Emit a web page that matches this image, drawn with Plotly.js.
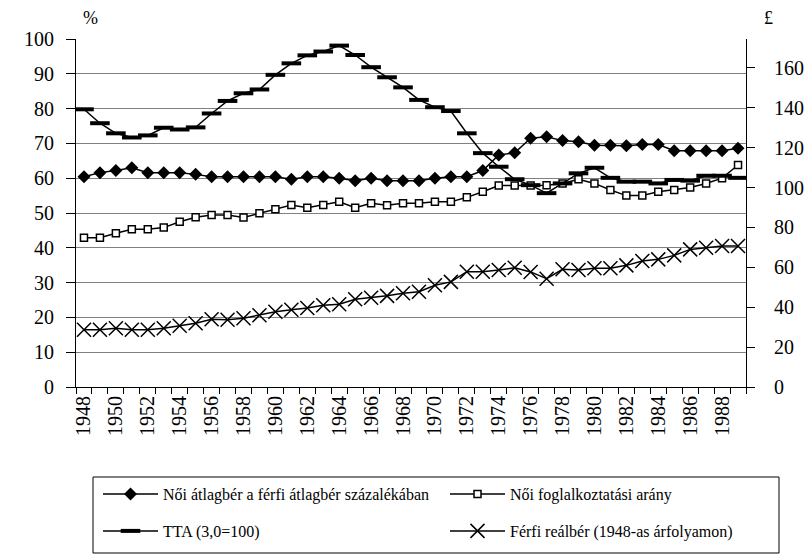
<!DOCTYPE html>
<html>
<head>
<meta charset="utf-8">
<script src="https://cdn.plot.ly/plotly-3.0.1.min.js"></script>
<style>html,body{margin:0;padding:0;background:#fff;}#chart{width:804px;height:556px;}</style>
</head>
<body>
<div id="chart"></div>
<script>
var years = [];
for (var y = 1948; y <= 1989; y++) years.push(y);

var noiAtlagber = [60.4,61.6,62.2,63.0,61.6,61.6,61.6,61.1,60.4,60.4,60.4,60.4,60.4,59.7,60.4,60.4,60.0,59.3,60.0,59.3,59.3,59.3,60.0,60.4,60.4,62.2,66.7,67.3,71.5,71.9,70.8,70.5,69.5,69.5,69.3,69.7,69.7,67.9,67.9,67.9,67.9,68.6];
var noiFoglalkoztatas = [42.9,42.9,44.2,45.3,45.3,45.8,47.5,48.8,49.4,49.4,48.7,49.9,51.1,52.3,51.5,52.3,53.2,51.5,52.8,52.2,52.8,52.8,53.2,53.2,54.5,56.1,57.9,57.9,57.9,58.0,58.5,59.7,58.5,56.6,55.0,55.0,56.1,56.6,57.3,58.5,60.0,63.8];
var tta = [79.8,75.8,72.9,71.7,72.3,74.5,74.0,74.6,78.6,82.2,84.4,85.5,89.7,93.0,95.3,96.4,98.1,95.4,91.9,89.0,86.1,82.5,80.4,79.3,72.9,67.2,63.3,59.7,58.0,55.7,58.5,61.4,63.0,60.1,59.0,59.0,58.5,59.5,59.3,60.7,60.7,60.1];
var ferfiRealber = [28.7,28.7,29.5,28.7,28.7,29.5,30.7,32.0,34.0,33.7,34.5,36.0,37.7,38.7,39.6,41.0,41.5,44.0,44.8,45.7,47.0,47.8,51.0,52.7,57.8,57.8,58.7,59.8,57.7,54.3,59.0,58.7,59.5,59.5,61.0,63.2,64.0,66.0,69.0,69.8,70.7,70.7];

var names = ["Női átlagbér a férfi átlagbér százalékában","Női foglalkoztatási arány","TTA (3,0=100)","Férfi reálbér (1948-as árfolyamon)"];
var leftTicks = [0,10,20,30,40,50,60,70,80,90,100];
var rightTicks = [0,20,40,60,80,100,120,140,160];
var labelYears = [];
for (var k = 1948; k <= 1988; k += 2) labelYears.push(k);

var FONT = "Times New Roman";

var traces = [
  {x: years, y: noiAtlagber, name: names[0], type: 'scatter', mode: 'lines+markers',
   line: {color: '#000', width: 1.5}, marker: {symbol: 'diamond', size: 10, color: '#000'}, legend: 'legend'},
  {x: years, y: noiFoglalkoztatas, name: names[1], type: 'scatter', mode: 'lines+markers',
   line: {color: '#000', width: 1.5}, marker: {symbol: 'square', size: 7, color: '#fff', line: {color: '#000', width: 1.5}}, legend: 'legend2'},
  {x: years, y: tta, name: names[2], type: 'scatter', mode: 'lines+markers',
   line: {color: '#000', width: 1.5}, marker: {symbol: 'line-ew', size: 14, color: '#000', line: {color: '#000', width: 4}}, legend: 'legend3'},
  {x: years, y: ferfiRealber, name: names[3], type: 'scatter', mode: 'lines+markers', yaxis: 'y2',
   line: {color: '#000', width: 1.5}, marker: {symbol: 'x-thin', size: 14, color: '#000', line: {color: '#000', width: 1.5}}, legend: 'legend4'}
];

function legendAt(px, py) {
  return {
    orientation: 'h', xref: 'container', yref: 'container', x: px / 804, y: (556 - py) / 556,
    xanchor: 'left', yanchor: 'middle', itemwidth: 55, bgcolor: 'rgba(0,0,0,0)',
    font: {family: FONT, size: 16, color: '#000'}, borderwidth: 0
  };
}

var layout = {
  width: 804, height: 556,
  margin: {l: 76, r: 58, t: 39, b: 169},
  paper_bgcolor: '#fff', plot_bgcolor: '#fff',
  font: {family: FONT, color: '#000', size: 20},
  showlegend: true,
  xaxis: {
    range: [1947.5, 1989.5], showline: true, linecolor: '#000', linewidth: 1,
    tickmode: 'array', tickvals: labelYears, ticktext: labelYears.map(String),
    ticks: '', tickangle: -90, showgrid: false, zeroline: false, automargin: false,
    tickfont: {family: FONT, size: 20, color: '#000'},
    minor: {tickmode: 'linear', tick0: 1947.5, dtick: 1, ticks: 'outside', ticklen: 6, tickcolor: '#000', tickwidth: 1, showgrid: false}
  },
  yaxis: {
    range: [0, 100], tickmode: 'array', tickvals: leftTicks, ticks: 'outside', ticklen: 9, tickcolor: '#000',
    ticklabelstandoff: 8, automargin: false,
    showline: true, linecolor: '#000', linewidth: 1, showgrid: true, gridcolor: '#808080', gridwidth: 1,
    zeroline: false, tickfont: {family: FONT, size: 20, color: '#000'}
  },
  yaxis2: {
    overlaying: 'y', side: 'right', range: [0, 174.5], tickmode: 'array', tickvals: rightTicks,
    ticklabelstandoff: 15, automargin: false,
    ticks: 'outside', ticklen: 8, tickcolor: '#000', showline: true, linecolor: '#000', linewidth: 1,
    showgrid: false, zeroline: false, tickfont: {family: FONT, size: 20, color: '#000'}
  },
  legend: legendAt(98, 494),
  legend2: legendAt(445, 494),
  legend3: legendAt(98, 531),
  legend4: legendAt(445, 531),
  shapes: [
    {type: 'rect', xref: 'paper', yref: 'paper', x0: (93 - 76) / 670, x1: (779 - 76) / 670, y0: (387 - 553) / 348, y1: (387 - 477) / 348,
     line: {color: '#000', width: 1}, fillcolor: 'rgba(0,0,0,0)'}
  ],
  annotations: [
    {text: '%', xref: 'paper', yref: 'paper', x: (90 - 76) / 670, y: (387 - 18) / 348, xanchor: 'center', yanchor: 'middle',
     showarrow: false, font: {family: FONT, size: 18, color: '#000'}},
    {text: '£', xref: 'paper', yref: 'paper', x: (768 - 76) / 670, y: (387 - 18) / 348, xanchor: 'center', yanchor: 'middle',
     showarrow: false, font: {family: FONT, size: 18, color: '#000'}}
  ]
};

Plotly.newPlot('chart', traces, layout, {staticPlot: true, displayModeBar: false});
</script>
</body>
</html>
